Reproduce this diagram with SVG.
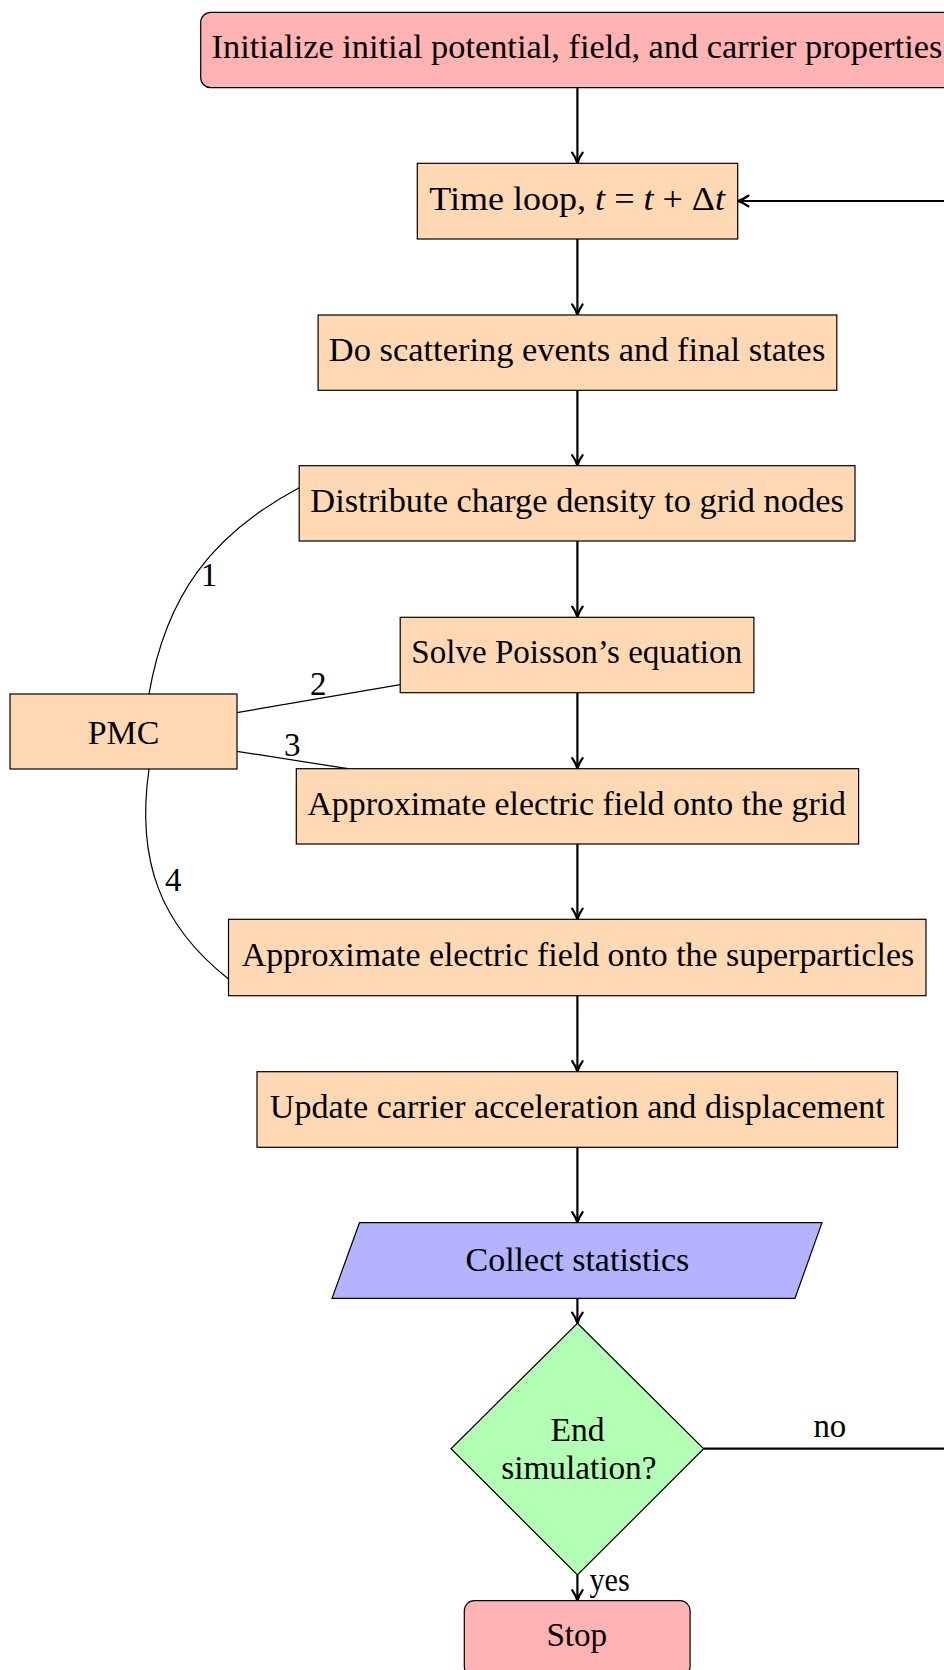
<svg xmlns="http://www.w3.org/2000/svg" width="944" height="1670" viewBox="0 0 944 1670">
  <style>
    text { font-family: "Liberation Serif", "Times New Roman", serif; font-size: 33px; fill: #000; }
    .lbl { text-anchor: middle; }
    .box { fill: #ffd9b3; stroke: #000; stroke-width: 1.2; }
    .term { fill: #ffb3b3; stroke: #000; stroke-width: 1.2; }
    .io { fill: #b3b3ff; stroke: #000; stroke-width: 1.2; }
    .dec { fill: #b3ffb3; stroke: #000; stroke-width: 1.2; }
    .flow { fill: none; stroke: #000; stroke-width: 2.2; marker-end: url(#arr); }
    .link { fill: none; stroke: #000; stroke-width: 1.2; }
    .m { font-style: italic; }
  </style>
  <defs>
    <marker id="arr" markerUnits="userSpaceOnUse" orient="auto" refX="0" refY="0" markerWidth="20" markerHeight="20" viewBox="-12 -8 14 16" overflow="visible">
      <path d="M-8.5,-4.2 C-5.8,-2.2 -2,-0.6 0,0 C-2,0.6 -5.8,2.2 -8.5,4.2" fill="none" stroke="#000" stroke-width="1.8" stroke-linecap="round" stroke-linejoin="round"/>
    </marker>
  </defs>

  <g id="connectors">
    <path class="flow" d="M577.4,87.7 V163.3"/>
    <path class="flow" d="M577.4,239 V315"/>
    <path class="flow" d="M577.4,390.3 V465.7"/>
    <path class="flow" d="M577.4,541 V617.3"/>
    <path class="flow" d="M577.4,692.7 V768.7"/>
    <path class="flow" d="M577.4,844 V919.3"/>
    <path class="flow" d="M577.4,995.7 V1071.7"/>
    <path class="flow" d="M577.4,1147.3 V1222.7"/>
    <path class="flow" d="M577.4,1298.3 V1323.3"/>
    <path class="flow" d="M577.4,1575 V1600.7"/>
    <path class="flow" d="M703.7,1448.7 H990 V201 H737.7"/>
    <path class="link" d="M149,694 C166,595.5 211.4,534.7 299.2,487.7"/>
    <path class="link" d="M237,712.6 L400.2,684.7"/>
    <path class="link" d="M237,751.3 L348,768.7"/>
    <path class="link" d="M149,769 C136,860 160,925 228.5,979"/>
    <text x="813.4" y="1437.3" textLength="32.8" lengthAdjust="spacingAndGlyphs">no</text>
    <text x="589.5" y="1590.7" textLength="40.3" lengthAdjust="spacingAndGlyphs">yes</text>
    <text class="lbl" x="209" y="586">1</text>
    <text class="lbl" x="318.3" y="695">2</text>
    <text class="lbl" x="292.3" y="755.8">3</text>
    <text class="lbl" x="173.3" y="890.8">4</text>
  </g>

  <g id="init">
    <rect class="term" x="200.7" y="12.3" width="752.7" height="75.4" rx="10" ry="10"/>
    <text x="211.6" y="58.3" textLength="730.8" lengthAdjust="spacingAndGlyphs">Initialize initial potential, field, and carrier properties</text>
  </g>
  <g id="timeloop">
    <rect class="box" x="417.3" y="163.3" width="320.4" height="75.7"/>
    <text x="429.3" y="209.5" textLength="295.7" lengthAdjust="spacingAndGlyphs">Time loop, <tspan class="m">t</tspan> = <tspan class="m">t</tspan> + Δ<tspan class="m">t</tspan></text>
  </g>
  <g id="scatter">
    <rect class="box" x="318.1" y="315" width="518.7" height="75.3"/>
    <text x="328.8" y="361" textLength="496.5" lengthAdjust="spacingAndGlyphs">Do scattering events and final states</text>
  </g>
  <g id="distribute">
    <rect class="box" x="299.2" y="465.7" width="555.8" height="75.3"/>
    <text x="310.3" y="511.7" textLength="533.5" lengthAdjust="spacingAndGlyphs">Distribute charge density to grid nodes</text>
  </g>
  <g id="poisson">
    <rect class="box" x="400.2" y="617.3" width="353.7" height="75.4"/>
    <text x="411.3" y="663.3" textLength="330.8" lengthAdjust="spacingAndGlyphs">Solve Poisson’s equation</text>
  </g>
  <g id="fieldgrid">
    <rect class="box" x="296.3" y="768.7" width="562.3" height="75.3"/>
    <text x="307.4" y="814.5" textLength="538.6" lengthAdjust="spacingAndGlyphs">Approximate electric field onto the grid</text>
  </g>
  <g id="fieldparticles">
    <rect class="box" x="228.5" y="919.3" width="697.5" height="76.4"/>
    <text x="241.8" y="965.8" textLength="672.3" lengthAdjust="spacingAndGlyphs">Approximate electric field onto the superparticles</text>
  </g>
  <g id="update">
    <rect class="box" x="257" y="1071.7" width="640.5" height="75.6"/>
    <text x="269.8" y="1117.8" textLength="614.9" lengthAdjust="spacingAndGlyphs">Update carrier acceleration and displacement</text>
  </g>
  <g id="stats">
    <polygon class="io" points="359.5,1222.7 822,1222.7 795,1298.3 332,1298.3"/>
    <text x="465.5" y="1271" textLength="223.8" lengthAdjust="spacingAndGlyphs">Collect statistics</text>
  </g>
  <g id="decision">
    <polygon class="dec" points="577.4,1323.3 703.7,1448.7 577.4,1575 451,1448.7"/>
    <text x="550.5" y="1440.7" textLength="54.2" lengthAdjust="spacingAndGlyphs">End</text>
    <text x="501.2" y="1479.3" textLength="155.3" lengthAdjust="spacingAndGlyphs">simulation?</text>
  </g>
  <g id="stop">
    <rect class="term" x="464.3" y="1600.7" width="225.8" height="75.5" rx="10" ry="10"/>
    <text x="546.4" y="1646" textLength="60.8" lengthAdjust="spacingAndGlyphs">Stop</text>
  </g>
  <g id="pmc">
    <rect class="box" x="10" y="694" width="227" height="75"/>
    <text x="87.7" y="743.5" textLength="71.6" lengthAdjust="spacingAndGlyphs">PMC</text>
  </g>
</svg>
